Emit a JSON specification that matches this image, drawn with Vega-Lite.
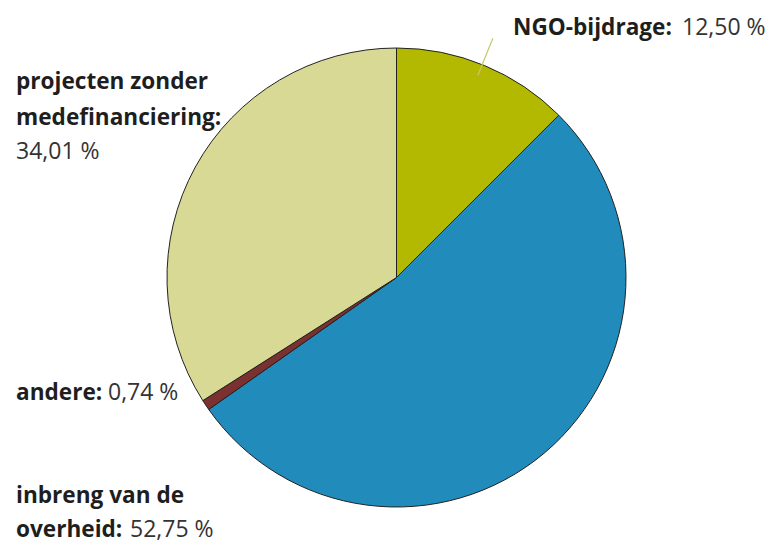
{
  "$schema": "https://vega.github.io/schema/vega-lite/v6.json",
  "width": 759,
  "height": 537,
  "autosize": {"type": "none"},
  "padding": {"left": 17, "top": 9, "right": 0, "bottom": 0},
  "background": "white",
  "view": {"stroke": null},
  "config": {"text": {"font": "Open Sans"}},
  "data": {
    "values": [
      {"cat": "NGO-bijdrage", "value": 12.50, "order": 1, "name": "NGO-bijdrage:", "pct": "12,50 %"},
      {"cat": "inbreng van de overheid", "value": 52.75, "order": 2, "name": "inbreng van de\noverheid:", "pct": "52,75 %"},
      {"cat": "andere", "value": 0.74, "order": 3, "name": "andere:", "pct": "0,74 %"},
      {"cat": "projecten zonder medefinanciering", "value": 34.01, "order": 4, "name": "projecten zonder\nmedefinanciering:", "pct": "34,01 %"}
    ]
  },
  "encoding": {
    "theta": {"field": "value", "type": "quantitative", "stack": true},
    "order": {"field": "order", "type": "quantitative"}
  },
  "layer": [
    {
      "mark": {"type": "arc", "outerRadius": 229.5, "stroke": "#222222", "strokeWidth": 1},
      "encoding": {
        "color": {
          "field": "cat", "type": "nominal", "legend": null,
          "scale": {
            "domain": ["NGO-bijdrage", "inbreng van de overheid", "andere", "projecten zonder medefinanciering"],
            "range": ["#b3b900", "#218bbb", "#7c3131", "#d9d996"]
          }
        }
      }
    },
    {
      "transform": [{"filter": "datum.cat === 'NGO-bijdrage'"}],
      "mark": {"type": "arc", "outerRadius": 258, "innerRadius": 218, "padAngle": 0.8, "thetaOffset": -0.01, "fill": null, "stroke": "#c6ca6a", "strokeWidth": 1.2},
      "encoding": {"detail": {"field": "cat"}}
    },
    {
      "mark": {"type": "text", "radius": 240, "align": "left", "baseline": "alphabetic", "fontSize": 22.6, "fontWeight": "bold", "color": "#1e1e1e", "dx": 24.7, "dy": -20.8},
      "encoding": {
        "detail": {"field": "cat"},
        "text": {"condition": {"test": "datum.cat === 'NGO-bijdrage'", "field": "name"}, "value": ""}
      }
    },
    {
      "mark": {"type": "text", "radius": 240, "align": "left", "baseline": "alphabetic", "fontSize": 23, "color": "#333333", "dx": 193.7, "dy": -20.8},
      "encoding": {
        "detail": {"field": "cat"},
        "text": {"condition": {"test": "datum.cat === 'NGO-bijdrage'", "field": "pct"}, "value": ""}
      }
    },
    {
      "mark": {"type": "text", "radius": 240, "align": "left", "baseline": "alphabetic", "fontSize": 22.6, "fontWeight": "bold", "color": "#1e1e1e", "lineBreak": "\n", "lineHeight": 34, "dx": -534.9, "dy": 41.8},
      "encoding": {
        "detail": {"field": "cat"},
        "text": {"condition": {"test": "datum.cat === 'inbreng van de overheid'", "field": "name"}, "value": ""}
      }
    },
    {
      "mark": {"type": "text", "radius": 240, "align": "left", "baseline": "alphabetic", "fontSize": 23, "color": "#333333", "dx": -420.9, "dy": 75.8},
      "encoding": {
        "detail": {"field": "cat"},
        "text": {"condition": {"test": "datum.cat === 'inbreng van de overheid'", "field": "pct"}, "value": ""}
      }
    },
    {
      "mark": {"type": "text", "radius": 240, "align": "left", "baseline": "alphabetic", "fontSize": 22.6, "fontWeight": "bold", "color": "#1e1e1e", "dx": -181, "dy": -10.9},
      "encoding": {
        "detail": {"field": "cat"},
        "text": {"condition": {"test": "datum.cat === 'andere'", "field": "name"}, "value": ""}
      }
    },
    {
      "mark": {"type": "text", "radius": 240, "align": "left", "baseline": "alphabetic", "fontSize": 23, "color": "#333333", "dx": -89, "dy": -10.9},
      "encoding": {
        "detail": {"field": "cat"},
        "text": {"condition": {"test": "datum.cat === 'andere'", "field": "pct"}, "value": ""}
      }
    },
    {
      "mark": {"type": "text", "radius": 240, "align": "left", "baseline": "alphabetic", "fontSize": 22.6, "fontWeight": "bold", "color": "#1e1e1e", "lineBreak": "\n", "lineHeight": 35.5, "dx": -170.1, "dy": -72.7},
      "encoding": {
        "detail": {"field": "cat"},
        "text": {"condition": {"test": "datum.cat === 'projecten zonder medefinanciering'", "field": "name"}, "value": ""}
      }
    },
    {
      "mark": {"type": "text", "radius": 240, "align": "left", "baseline": "alphabetic", "fontSize": 23, "color": "#333333", "dx": -170.1, "dy": -2.7},
      "encoding": {
        "detail": {"field": "cat"},
        "text": {"condition": {"test": "datum.cat === 'projecten zonder medefinanciering'", "field": "pct"}, "value": ""}
      }
    }
  ]
}
